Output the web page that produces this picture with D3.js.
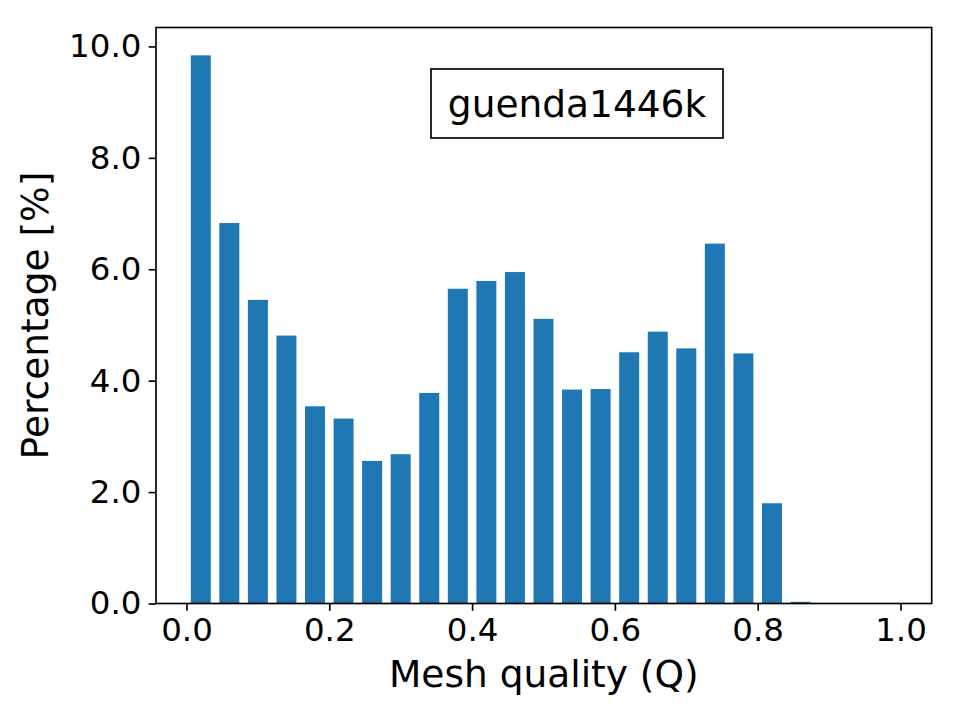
<!DOCTYPE html>
<meta charset="utf-8">
<style>
    body { margin: 0; background: #fff; }
    svg { display: block; }
    .bar rect { fill: #1f77b4; }
    .axis text { font-family: 'DejaVu Sans', sans-serif; font-size: 32.5px; fill: #000; }
    .axis path, .axis line { stroke: #000; stroke-width: 1.67px; }
    .label { font-family: 'DejaVu Sans', sans-serif; font-size: 37.5px; fill: #000; }
</style>
<svg width="960" height="720"></svg>
<script src="https://d3js.org/d3.v7.min.js"></script>
<script>

    // histogram bin edges (Q) and share of elements per bin (%)
    var binLeft = [0.00, 0.04, 0.08, 0.12, 0.16, 0.20, 0.24, 0.28, 0.32, 0.36,
                   0.40, 0.44, 0.48, 0.52, 0.56, 0.60, 0.64, 0.68, 0.72, 0.76,
                   0.80, 0.84, 0.88, 0.92, 0.96];
    var binWidth = 0.04;
    var percentages = [9.84, 6.83, 5.45, 4.81, 3.54, 3.32, 2.56, 2.68, 3.78, 5.65,
                       5.79, 5.95, 5.11, 3.84, 3.85, 4.51, 4.88, 4.58, 6.46, 4.49,
                       1.80, 0.03, 0, 0, 0];
    var xTicks = [0.0, 0.2, 0.4, 0.6, 0.8, 1.0];
    var yTicks = [0, 2, 4, 6, 8, 10];
    var meshName = "guenda1446k";

    var svg = d3.select("svg"),
        margin = {top: 27.5, right: 28.3, bottom: 116.5, left: 156},
        width = +svg.attr("width") - margin.left - margin.right,
        height = +svg.attr("height") - margin.top - margin.bottom,
        g = svg.append("g").attr("transform", "translate(" + margin.left + "," + margin.top + ")");

    var x = d3.scaleLinear().domain([-0.0427, 1.0437]).range([0, width]);
    var y = d3.scaleLinear().domain([0, 10.34]).range([height, 0]);

    var rwidth = 0.7;

    var bar = g.selectAll(".bar")
        .data(percentages)
        .enter().append("g")
        .attr("class", "bar");

    bar.append("rect")
        .attr("x", function(d, i) { return x(binLeft[i] + binWidth * (1 - rwidth) / 2); })
        .attr("width", function(d, i) { return x(binWidth * rwidth) - x(0); })
        .attr("y", function(d) { return y(d); })
        .attr("height", function(d) { return height - y(d); });

    // frame
    g.append("rect")
        .attr("width", width)
        .attr("height", height)
        .attr("fill", "none")
        .attr("stroke", "#000")
        .attr("stroke-width", 1.67);

    var xAxis = g.append("g")
        .attr("class", "axis")
        .attr("transform", "translate(0," + height + ")")
        .call(d3.axisBottom(x).tickValues(xTicks).tickFormat(d3.format(".1f"))
            .tickSizeInner(7.3).tickSizeOuter(0).tickPadding(7.3));
    xAxis.select(".domain").remove();

    var yAxis = g.append("g")
        .attr("class", "axis")
        .call(d3.axisLeft(y).tickValues(yTicks).tickFormat(d3.format(".1f"))
            .tickSizeInner(7.3).tickSizeOuter(0).tickPadding(7.3));
    yAxis.select(".domain").remove();

    svg.append("text")
        .attr("class", "label")
        .attr("text-anchor", "middle")
        .attr("x", margin.left + width / 2)
        .attr("y", 687)
        .text("Mesh quality (Q)");

    svg.append("text")
        .attr("class", "label")
        .attr("text-anchor", "middle")
        .attr("transform", "translate(48," + (margin.top + height / 2) + ") rotate(-90)")
        .text("Percentage [%]");

    // name box
    var box = g.append("g").attr("transform", "translate(" + (577 - margin.left) + "," + (103.5 - margin.top) + ")");
    box.append("rect")
        .attr("x", -146).attr("y", -34.5)
        .attr("width", 292).attr("height", 69)
        .attr("fill", "#fff")
        .attr("stroke", "#000")
        .attr("stroke-width", 1.67);
    box.append("text")
        .attr("class", "label")
        .attr("text-anchor", "middle")
        .attr("y", 13)
        .text(meshName);

</script>
